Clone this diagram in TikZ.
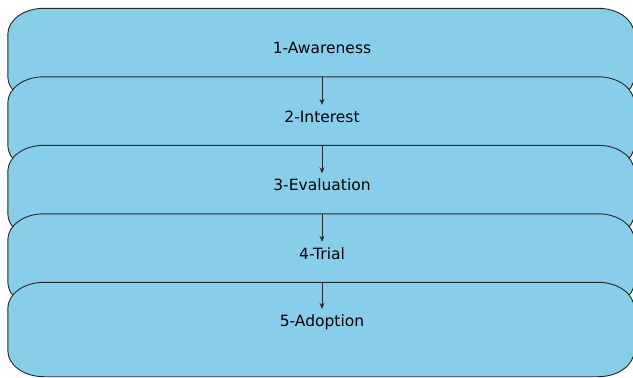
\documentclass[tikz,border=0pt]{standalone}
\usepackage{fontspec}
\setmainfont{DejaVu Sans}
\usepackage{tikz}
\usetikzlibrary{positioning,arrows.meta,calc}
\definecolor{sFill}{RGB}{135,206,235}
\definecolor{sLine}{RGB}{40,40,40}
\tikzset{
  stage/.style={rectangle, minimum width=626pt, minimum height=94pt,
                inner sep=0pt},
  stageline/.style={draw=sLine, fill=sFill, line width=0.9pt},
  lbl/.style={font=\fontsize{15.5}{18}\selectfont, text=black, inner sep=0pt},
  flow/.style={-{Stealth[length=6pt,width=5pt]}, draw=sLine, line width=0.9pt,
               shorten >=5.5pt},
}
% box with elliptic corners round a stage node
\newcommand\stageshape[1]{%
  \draw[stageline] ($(#1.north west)+(36,0)$) -- ($(#1.north east)+(-36,0)$)
    arc[start angle=90, end angle=0, x radius=36, y radius=26]
    -- ($(#1.south east)+(0,26)$)
    arc[start angle=0, end angle=-90, x radius=36, y radius=26]
    -- ($(#1.south west)+(36,0)$)
    arc[start angle=270, end angle=180, x radius=36, y radius=26]
    -- ($(#1.north west)+(0,-26)$)
    arc[start angle=180, end angle=90, x radius=36, y radius=26] -- cycle;}

\begin{document}
\begin{tikzpicture}[x=1pt, y=1pt, node distance=68.5pt, on grid]
  \useasboundingbox (0,0) rectangle (633,-378);
  % --- the five stages, each one laid over the one above ---
  \node[stage] (box1) at (321,-55.5) {};
  \stageshape{box1}
  \node[lbl] (lbl1) at ($(box1)+(1,7.5)$) {1-Awareness};
  \node[stage,below=of box1] (box2) {};
  \stageshape{box2}
  \node[lbl] (lbl2) at ($(box2)+(1,7.5)$) {2-Interest};
  \draw[flow] (box2.north -| lbl2) -- (lbl2);
  \node[stage,below=of box2] (box3) {};
  \stageshape{box3}
  \node[lbl] (lbl3) at ($(box3)+(1,7.5)$) {3-Evaluation};
  \draw[flow] (box3.north -| lbl3) -- (lbl3);
  \node[stage,below=of box3] (box4) {};
  \stageshape{box4}
  \node[lbl] (lbl4) at ($(box4)+(1,7.5)$) {4-Trial};
  \draw[flow] (box4.north -| lbl4) -- (lbl4);
  \node[stage,below=of box4] (box5) {};
  \stageshape{box5}
  \node[lbl] (lbl5) at ($(box5)+(1,7.5)$) {5-Adoption};
  \draw[flow] (box5.north -| lbl5) -- (lbl5);
\end{tikzpicture}
\end{document}
